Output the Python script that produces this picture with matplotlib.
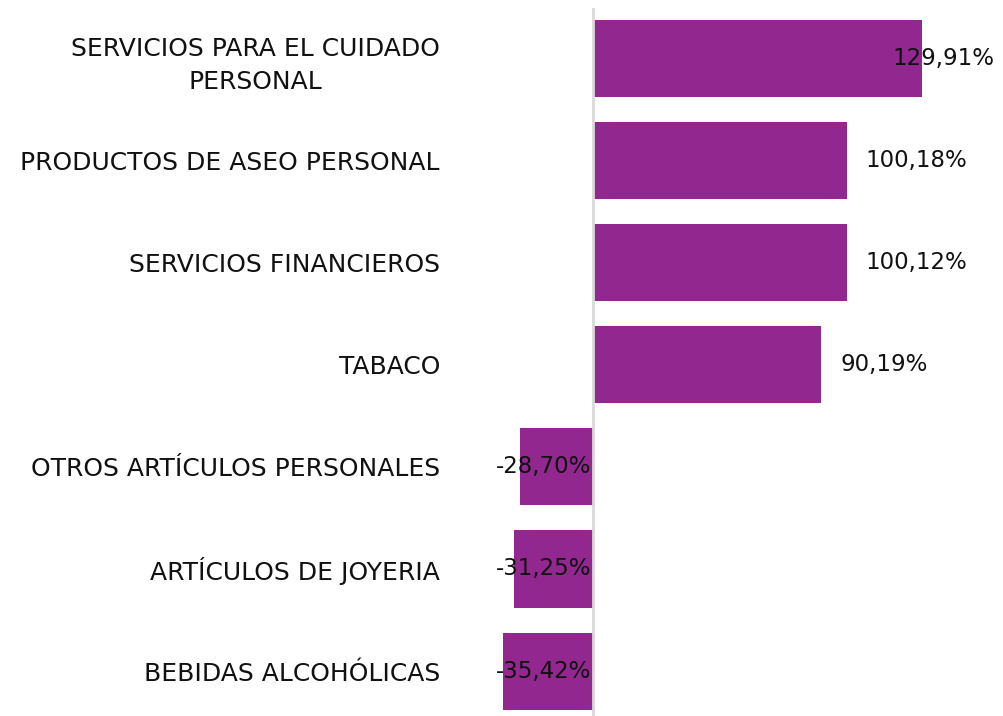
import matplotlib.pyplot as plt
import numpy as np

categorias = ['SERVICIOS PARA EL CUIDADO\nPERSONAL', 'PRODUCTOS DE ASEO PERSONAL',
              'SERVICIOS FINANCIEROS', 'TABACO', 'OTROS ARTÍCULOS PERSONALES',
              'ARTÍCULOS DE JOYERIA', 'BEBIDAS ALCOHÓLICAS']
variacion = [129.91, 100.18, 100.12, 90.19, -28.70, -31.25, -35.42]

color_barra = '#92278F'

fig = plt.figure(figsize=(10.04, 7.16), dpi=100)
ax = fig.add_axes([490 / 1004, 0, 510 / 1004, 708 / 716])

y = np.arange(len(categorias))
ax.barh(y, variacion, height=0.755, color=color_barra, zorder=2)
ax.axvline(0, color='#D9D9D9', lw=2, zorder=3)

ax.set_xlim(-40.66, 160.7)
ax.set_ylim(6.44, -0.495)

ax.set_yticks(y)
ax.set_yticklabels(categorias, fontsize=18, color='#111111', multialignment='center')
ax.tick_params(axis='y', length=0, pad=36)
for t in ax.get_yticklabels():
    t.set_linespacing(1.45)
ax.set_xticks([])
for s in ax.spines.values():
    s.set_visible(False)

limite = 158.7
for yi, v in zip(y, variacion):
    txt = f'{v:.2f}%'.replace('.', ',')
    if v < 0:
        ax.text(-0.8, yi, txt, ha='right', va='center', fontsize=16.5, color='#111111', zorder=4)
    elif v + 7.5 + 39.5 > limite:
        ax.text(limite, yi, txt, ha='right', va='center', fontsize=16.5, color='#111111', zorder=4)
    else:
        ax.text(v + 7.5, yi, txt, ha='left', va='center', fontsize=16.5, color='#111111', zorder=4)

fig.savefig('out.png', dpi=100)
